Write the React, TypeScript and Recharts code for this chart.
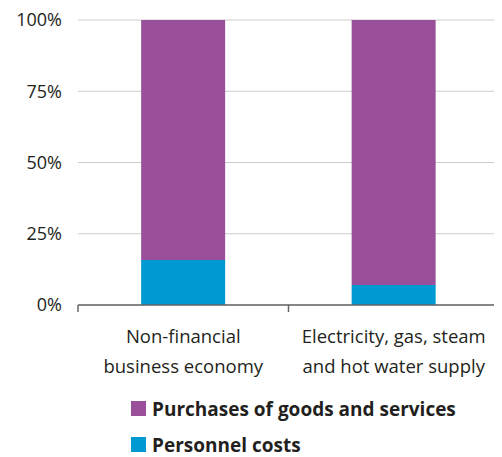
import { BarChart, Bar, XAxis, YAxis, CartesianGrid, Legend } from "recharts";

const categories = ["Non-financial business economy", "Electricity, gas, steam and hot water supply"];
const categoryLines = [
  ["Non-financial", "business economy"],
  ["Electricity, gas, steam", "and hot water supply"],
];
const personnelCosts = [15.8, 7.0];
const purchases = [84.2, 93.0];
const yTicks = [0, 25, 50, 75, 100];

const FONT = "'Open Sans', 'Noto Sans', sans-serif";
const TEXT = "#231f20";
const PURPLE = "#9a4f9b";
const BLUE = "#0099d1";

const data = categories.map((c, i) => ({
  category: c,
  personnel: personnelCosts[i],
  purchases: purchases[i],
}));

const CategoryTick = (props: any) => {
  const { x, y, payload, index } = props;
  const half = payload.offset || 0;
  const lines = categoryLines[index] || [payload.value];
  return (
    <g>
      <line x1={x - half} x2={x - half} y1={y} y2={y + 7} stroke="#666" strokeWidth={1.5} />
      {index === categories.length - 1 && (
        <line x1={x + half} x2={x + half} y1={y} y2={y + 7} stroke="#666" strokeWidth={1.5} />
      )}
      <text x={x} y={y + 38} textAnchor="middle" fontFamily={FONT} fontSize={18.5} fill={TEXT}>
        {lines.map((l: string, i: number) => (
          <tspan key={i} x={x} dy={i === 0 ? 0 : 30}>
            {l}
          </tspan>
        ))}
      </text>
    </g>
  );
};

const renderLegend = (props: any) => {
  const items = [...(props.payload || [])].reverse();
  return (
    <div style={{ display: "flex", flexDirection: "column", gap: 5 }}>
      {items.map((it: any) => (
        <div key={it.value} style={{ display: "flex", alignItems: "center", height: 31 }}>
          <span style={{ width: 15, height: 15, background: it.color, display: "inline-block", marginRight: 6 }} />
          <span style={{ fontFamily: FONT, fontWeight: 700, fontSize: 19, color: TEXT }}>{it.value}</span>
        </div>
      ))}
    </div>
  );
};

export default function App() {
  return (
    <BarChart
      width={494}
      height={449}
      data={data}
      margin={{ top: 12, right: 3, left: 0, bottom: 0 }}
      barCategoryGap="30%"
    >
      <CartesianGrid vertical={false} stroke="#cccccc" />
      <XAxis
        dataKey="category"
        height={88}
        interval={0}
        tickLine={false}
        tickSize={0}
        tickMargin={0}
        axisLine={{ stroke: "#666", strokeWidth: 1.5 }}
        tick={<CategoryTick />}
      />
      <YAxis
        width={70}
        domain={[0, 100]}
        ticks={yTicks}
        axisLine={false}
        tickLine={false}
        tickMargin={10}
        tickFormatter={(v: number) => `${v}%`}
        tick={{ fontFamily: FONT, fontSize: 18, fill: TEXT }}
      />
      <Legend
        verticalAlign="bottom"
        content={renderLegend}
        wrapperStyle={{ left: 123, width: 371, height: 64 }}
      />
      <Bar dataKey="personnel" name="Personnel costs" stackId="a" fill={BLUE} isAnimationActive={false} />
      <Bar dataKey="purchases" name="Purchases of goods and services" stackId="a" fill={PURPLE} isAnimationActive={false} />
    </BarChart>
  );
}
